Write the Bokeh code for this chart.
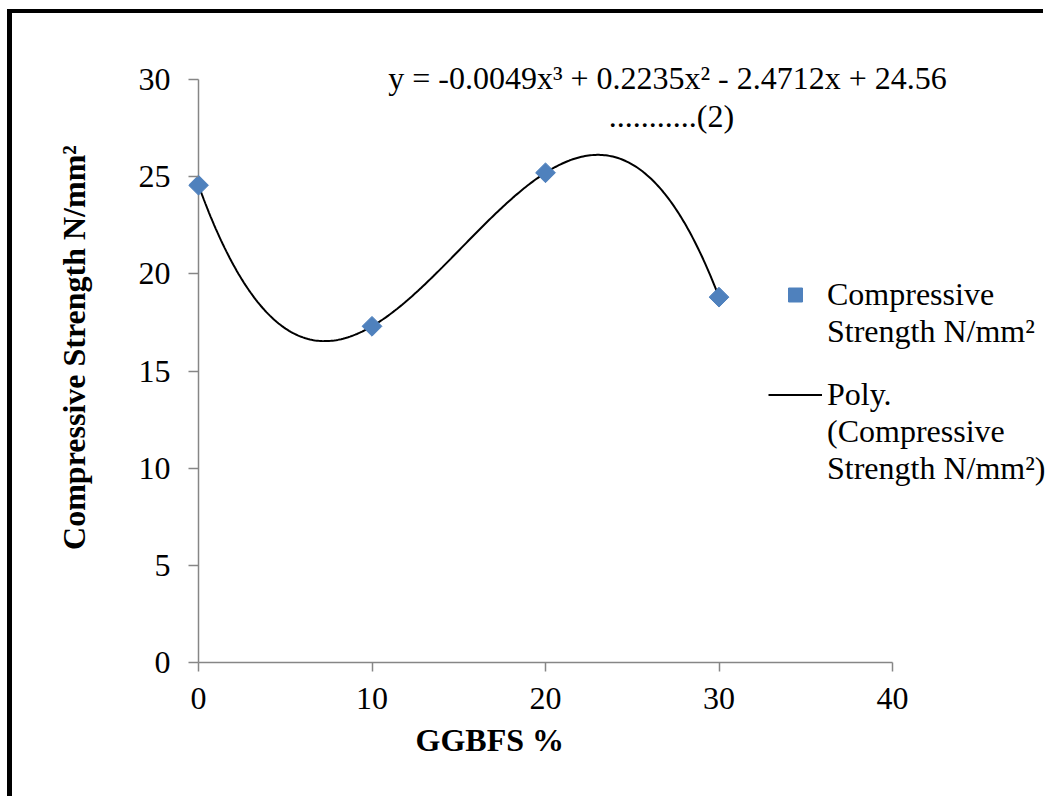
import numpy as np
from bokeh.plotting import figure
from bokeh.models import Range1d, Label, Legend, LegendItem, FixedTicker, Title
from bokeh.embed import file_html
from bokeh.resources import INLINE

# ---- data ----
ggbfs = [0, 10, 20, 30]
strength = [24.56, 17.3, 25.2, 18.8]
x_ticks = [0, 10, 20, 30, 40]
y_ticks = [0, 5, 10, 15, 20, 25, 30]
series_name = "Compressive\nStrength N/mm²"
trend_name = "Poly.\n(Compressive\nStrength N/mm²)"
equation = "y = -0.0049x³ + 0.2235x² - 2.4712x + 24.56"
equation_ref = "...........(2)"
x_title = "GGBFS %"
y_title = "Compressive Strength N/mm²"

# cubic trendline fitted to the data
coef = np.polyfit(ggbfs, strength, 3)
trend_x = np.linspace(min(ggbfs), max(ggbfs), 300)
trend_y = np.polyval(coef, trend_x)

# ---- layout (page pixels -> canvas pixels) ----
OX, OY = 12, 13                      # canvas origin on the page (margin + border)
W, H = 1048 - OX, 800 - OY
FL = 188 - OX                        # frame left
FR = W                               # frame right
FB = 662 - OY                        # frame bottom (y = 0)
Y30 = 79 - OY                        # pixel of y = 30
FT = 32 - OY                         # frame top
X0 = 198 - OX                        # pixel of x = 0
PXU = (892 - 198) / 40.0
PYU = (FB - Y30) / 30.0
x_start = -(X0 - FL) / PXU
x_end = x_start + (FR - FL) / PXU
y_end = (FB - FT) / PYU

def dx(page_x):
    return (page_x - OX - X0) / PXU

def dy(page_y):
    return (FB - (page_y - OY)) / PYU

FONT = "Liberation Serif"
FS = "32px"
AX = "#868686"

p = figure(width=W, height=H, x_range=Range1d(x_start, x_end), y_range=Range1d(0, y_end),
           output_backend="svg", toolbar_location=None, title=None,
           min_border_left=FL, min_border_right=0, min_border_top=FT,
           min_border_bottom=H - FB)
p.styles = {"border-left": "5px solid black", "border-top": "4px solid black",
            "margin-left": "7px", "margin-top": "9px"}
p.grid.visible = False
p.outline_line_color = None

xa = p.xaxis[0]
xa.ticker = FixedTicker(ticks=x_ticks)
xa.bounds = (x_ticks[0], x_ticks[-1])
xa.axis_line_color = AX
xa.axis_line_width = 1.5
xa.major_tick_line_color = AX
xa.major_tick_line_width = 1.5
xa.major_tick_out = 9
xa.major_tick_in = 0
xa.minor_tick_line_color = None
xa.major_label_text_font = FONT
xa.major_label_text_font_size = FS
xa.major_label_text_color = "black"
xa.major_label_standoff = 16

ya = p.yaxis[0]
ya.ticker = FixedTicker(ticks=y_ticks)
ya.axis_line_color = None
ya.major_tick_line_color = AX
ya.major_tick_line_width = 1.5
ya.major_tick_out = 0
ya.major_tick_in = 10
ya.minor_tick_line_color = None
ya.major_label_text_font = FONT
ya.major_label_text_font_size = FS
ya.major_label_text_color = "black"
ya.major_label_standoff = 18
ya.axis_label = y_title
ya.axis_label_text_font = FONT
ya.axis_label_text_font_size = FS
ya.axis_label_text_font_style = "bold"
ya.axis_label_text_color = "black"
ya.axis_label_standoff = 44

# vertical axis line at x = 0, spanning the tick range
p.segment(x0=[x_ticks[0]], y0=[y_ticks[0]], x1=[x_ticks[0]], y1=[y_ticks[-1]],
          line_color=AX, line_width=1.5)

line_r = p.line(trend_x, trend_y, line_color="black", line_width=2)
pts_r = p.scatter(ggbfs, strength, marker="square", angle=np.pi / 4, size=14,
                  fill_color="#4F81BD", line_color="#4F81BD")

# one legend per entry; blank leading lines keep each key level with the
# first line of its label
leg_style = dict(glyph_width=54, glyph_height=35, label_standoff=5, padding=0,
                 margin=0, spacing=0, border_line_color=None,
                 background_fill_alpha=0, label_text_font=FONT,
                 label_text_font_size=FS, label_text_line_height=1.125,
                 label_text_color="black")
legend1 = Legend(items=[LegendItem(label="\n" + series_name, renderers=[pts_r])],
                 location=(580, 312), **leg_style)
legend2 = Legend(items=[LegendItem(label="\n\n" + trend_name, renderers=[line_r])],
                 location=(580, 175), **leg_style)
p.add_layout(legend1, "center")
p.add_layout(legend2, "center")

p.add_layout(Title(text=x_title, align="left", offset=227, text_font=FONT,
                   text_font_size=FS, text_font_style="bold", text_color="black",
                   standoff=16), "below")

common = dict(text_font=FONT, text_font_size=FS, text_color="black",
              text_align="center", text_baseline="middle")
p.add_layout(Label(x=dx(667), y=dy(77), text=equation, **common))
p.add_layout(Label(x=dx(671), y=dy(115), text=equation_ref, **common))

open("out.html", "w").write(file_html(p, INLINE))
